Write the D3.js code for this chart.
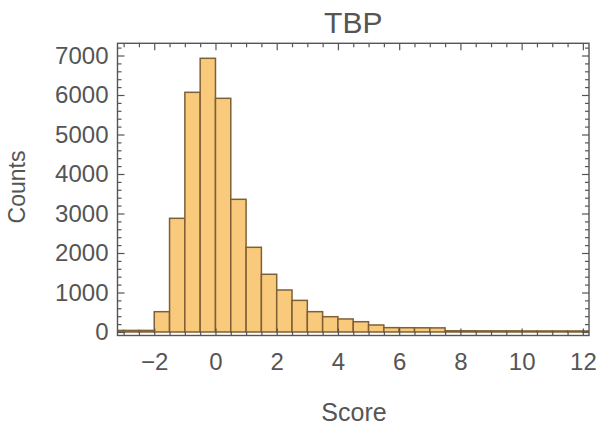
<!DOCTYPE html>
<html>
<head>
<meta charset="utf-8">
<script src="https://cdn.jsdelivr.net/npm/d3@7"></script>
<style>
  html, body { margin: 0; padding: 0; background: #fff; }
  svg { display: block; font-family: "Liberation Sans", Arial, sans-serif; }
</style>
</head>
<body>
<svg id="chart" width="599" height="427"></svg>
<script>
// ---- data ----
const binLeft = [-3.5, -3, -2.5, -2, -1.5, -1, -0.5, 0, 0.5, 1, 1.5, 2, 2.5, 3, 3.5, 4,
                 4.5, 5, 5.5, 6, 6.5, 7, 7.5, 8, 8.5, 9, 9.5, 10, 10.5, 11, 11.5, 12];
const counts  = [40, 40, 40, 514, 2878, 6068, 6929, 5916, 3359, 2144, 1461, 1063, 800, 514, 387, 330,
                 260, 177, 110, 108, 106, 104, 30, 30, 28, 28, 28, 26, 26, 26, 26, 26];
const binWidth = 0.5;
const xTicks = [-2, 0, 2, 4, 6, 8, 10, 12];
const xMinorTicks = [-3, -2.5, -1.5, -1, -0.5, 0.5, 1, 1.5, 2.5, 3, 3.5, 4.5, 5, 5.5, 6.5, 7, 7.5,
                     8.5, 9, 9.5, 10.5, 11, 11.5];
const yTicks = [0, 1000, 2000, 3000, 4000, 5000, 6000, 7000];
const yMinorTicks = [200, 400, 600, 800, 1200, 1400, 1600, 1800, 2200, 2400, 2600, 2800,
                     3200, 3400, 3600, 3800, 4200, 4400, 4600, 4800, 5200, 5400, 5600, 5800,
                     6200, 6400, 6600, 6800, 7200];
const title = "TBP";
const xLabel = "Score";
const yLabel = "Counts";

// ---- layout ----
const L = 117.5, R = 589, T = 43.3, B = 335.5;
const svg = d3.select("#chart");
const x = d3.scaleLinear().domain([-3.2, 12.2]).range([L, R]);
const y = d3.scaleLinear().domain([-89, 7309]).range([B, T]);

const textColor = "#555";
const frameColor = "#555";

svg.append("defs").append("clipPath").attr("id", "clip")
  .append("rect").attr("x", L).attr("y", T).attr("width", R - L).attr("height", B - T);

// bars
svg.append("g").attr("clip-path", "url(#clip)")
  .selectAll("rect").data(binLeft).join("rect")
  .attr("x", (d) => x(d))
  .attr("width", (d) => x(d + binWidth) - x(d))
  .attr("y", (d, i) => y(counts[i]))
  .attr("height", (d, i) => y(0) - y(counts[i]))
  .attr("fill", "#f9ca7b")
  .attr("stroke", "#7e6036")
  .attr("stroke-width", 1.5);

// axes with inward ticks
function styleAxis(g, hideLabels) {
  g.select(".domain").remove();
  g.selectAll(".tick line").attr("stroke", frameColor).attr("stroke-width", 1.2);
  g.selectAll(".tick text").attr("fill", textColor).attr("font-size", 24)
    .attr("font-family", '"Liberation Sans", Arial, sans-serif');
  if (hideLabels) g.selectAll(".tick text").remove();
}
const MAJ = 7, MIN = 4;

// bottom
svg.append("g").attr("transform", `translate(0,${B})`)
  .call(d3.axisBottom(x).tickValues(xTicks).tickSize(-MAJ).tickPadding(17)
        .tickFormat((d) => d < 0 ? "\u2212" + Math.abs(d) : String(d)))
  .call((g) => styleAxis(g, false));
svg.append("g").attr("transform", `translate(0,${B})`)
  .call(d3.axisBottom(x).tickValues(xMinorTicks).tickSize(-MIN))
  .call((g) => styleAxis(g, true));
// top
svg.append("g").attr("transform", `translate(0,${T})`)
  .call(d3.axisTop(x).tickValues(xTicks).tickSize(-MAJ))
  .call((g) => styleAxis(g, true));
svg.append("g").attr("transform", `translate(0,${T})`)
  .call(d3.axisTop(x).tickValues(xMinorTicks).tickSize(-MIN))
  .call((g) => styleAxis(g, true));
// left
svg.append("g").attr("transform", `translate(${L},0)`)
  .call(d3.axisLeft(y).tickValues(yTicks).tickSize(-MAJ).tickPadding(9).tickFormat(d3.format("d")))
  .call((g) => styleAxis(g, false));
svg.append("g").attr("transform", `translate(${L},0)`)
  .call(d3.axisLeft(y).tickValues(yMinorTicks).tickSize(-MIN))
  .call((g) => styleAxis(g, true));
// right
svg.append("g").attr("transform", `translate(${R},0)`)
  .call(d3.axisRight(y).tickValues(yTicks).tickSize(-MAJ))
  .call((g) => styleAxis(g, true));
svg.append("g").attr("transform", `translate(${R},0)`)
  .call(d3.axisRight(y).tickValues(yMinorTicks).tickSize(-MIN))
  .call((g) => styleAxis(g, true));

// frame
svg.append("rect").attr("x", L).attr("y", T).attr("width", R - L).attr("height", B - T)
  .attr("fill", "none").attr("stroke", frameColor).attr("stroke-width", 1.4);

// title & labels
svg.append("text").attr("x", (L + R) / 2).attr("y", 33).attr("text-anchor", "middle")
  .attr("font-size", 30).attr("fill", textColor).text(title);
svg.append("text").attr("x", 354).attr("y", 421).attr("text-anchor", "middle")
  .attr("font-size", 25).attr("fill", textColor).text(xLabel);
svg.append("text").attr("transform", "translate(25,187) rotate(-90)").attr("text-anchor", "middle")
  .attr("font-size", 23).attr("fill", textColor).text(yLabel);
</script>
</body>
</html>
